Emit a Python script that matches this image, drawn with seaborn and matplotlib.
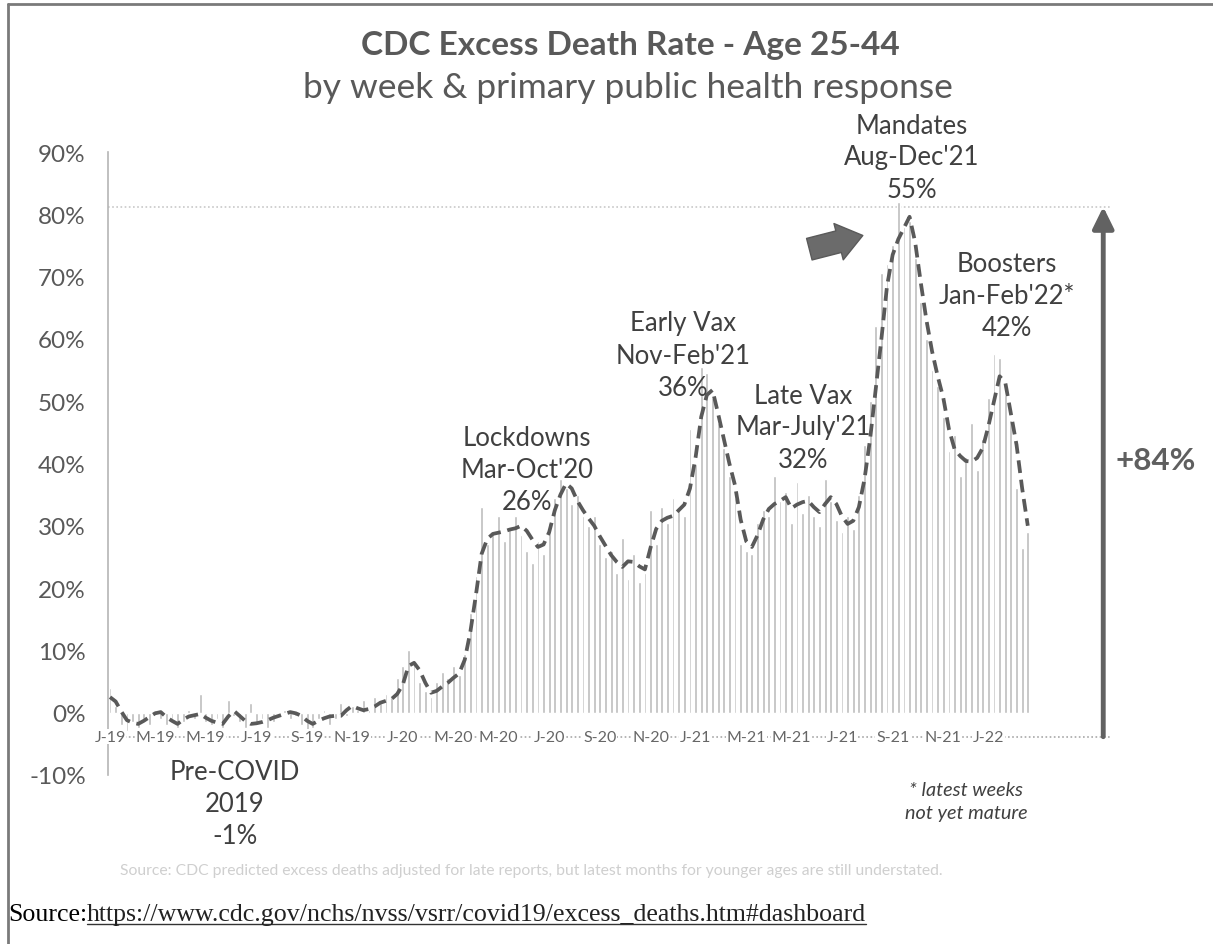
import numpy as np
import pandas as pd
import matplotlib
matplotlib.use("Agg")
import matplotlib.pyplot as plt
import seaborn as sns
from matplotlib.lines import Line2D

# weekly data, Jan 2019 - Feb 2022 (in %)
week_ending = pd.date_range("2019-01-05", periods=164, freq="7D")

excess_pct = [
    4.0, 1.0, -2.0, -3.0, -1.5, -2.5, -1.0, -2.0, 0.5, -1.0,
    -2.0, -1.0, -2.5, -1.5, 0.5, -1.0, 3.0, -1.5, -2.0, -1.0,
    -2.5, 2.0, -0.5, -1.5, -2.5, 1.5, -2.0, -1.0, -2.5, -1.5,
    -0.5, 0.5, -1.0, -0.5, -2.0, -3.0, -2.5, -1.0, 0.5, -2.0,
    -1.0, 1.5, -0.5, 1.0, 0.5, 2.0, 0.5, 2.5, 1.5, 3.0,
    2.5, 5.5, 7.5, 10.0, 8.5, 5.0, 3.5, 2.5, 5.0, 6.5,
    5.5, 7.5, 6.0, 9.5, 16.0, 22.0, 33.0, 27.0, 29.0, 31.5,
    27.5, 29.5, 31.5, 28.5, 26.0, 24.0, 27.5, 25.5, 30.5, 34.5,
    37.5, 36.0, 33.5, 35.0, 31.5, 30.0, 31.5, 27.0, 25.0, 26.0,
    22.5, 28.0, 21.5, 25.5, 21.0, 22.5, 32.5, 27.0, 33.0, 30.5,
    34.5, 33.0, 31.5, 45.5, 40.0, 55.5, 54.5, 50.5, 46.5, 42.5,
    38.0, 34.5, 27.0, 26.0, 25.5, 30.5, 32.5, 31.5, 38.0, 34.0,
    35.5, 30.5, 37.0, 32.0, 35.0, 31.5, 30.0, 37.5, 34.0, 31.0,
    29.0, 31.5, 29.5, 35.0, 43.0, 50.0, 62.0, 70.5, 72.0, 75.0,
    82.0, 78.0, 79.0, 73.0, 66.0, 60.0, 55.0, 52.5, 47.5, 42.0,
    44.5, 38.0, 41.0, 46.5, 39.0, 44.0, 50.5, 57.5, 57.0, 51.0,
    47.0, 36.0, 26.5, 29.0,
]

trend_pct = [
    2.5, 1.8, 0.2, -1.2, -1.6, -1.8, -1.3, -0.7, -0.1, 0.1,
    -0.7, -1.3, -1.8, -1.1, -0.6, -0.4, -0.2, -0.8, -1.3, -1.6,
    -1.8, -0.6, 0.3, -0.5, -1.3, -1.8, -1.7, -1.5, -1.2, -0.8,
    -0.5, -0.2, 0.1, -0.1, -0.5, -1.3, -1.8, -1.3, -0.9, -0.6,
    -0.5, -0.5, 0.4, 1.1, 0.7, 0.4, 0.6, 1.0, 1.6, 1.9,
    2.2, 3.0, 4.5, 7.5, 8.0, 6.8, 4.8, 3.2, 3.5, 4.2,
    4.8, 5.6, 6.3, 8.5, 13.0, 19.0, 25.5, 27.9, 28.7, 28.9,
    29.1, 29.4, 29.6, 30.0, 29.2, 27.8, 26.6, 27.0, 29.0, 32.5,
    35.0, 36.8, 36.0, 34.0, 32.5, 31.2, 30.0, 28.3, 26.8, 25.3,
    24.2, 23.4, 24.3, 24.2, 23.5, 23.0, 26.5, 29.5, 30.8, 31.3,
    31.6, 32.5, 33.4, 36.0, 41.0, 47.5, 51.0, 51.8, 48.0, 44.0,
    40.0, 36.5, 31.0, 27.5, 26.6, 28.5, 31.0, 32.7, 33.5, 34.0,
    34.6, 32.8, 33.4, 33.8, 34.0, 33.0, 32.2, 33.5, 34.6, 33.5,
    31.5, 30.3, 30.8, 33.0, 37.5, 44.0, 52.0, 60.0, 68.5, 73.5,
    76.0, 77.8, 79.6, 75.5, 69.0, 63.0, 58.0, 54.0, 50.5, 45.5,
    42.3, 41.2, 40.4, 40.3, 40.9, 42.5, 46.0, 50.0, 54.0, 53.0,
    48.0, 43.0, 36.0, 30.0,
]

tick_labels = ["J-19", "M-19", "M-19", "J-19", "S-19", "N-19",
               "J-20", "M-20", "M-20", "J-20", "S-20", "N-20",
               "J-21", "M-21", "M-21", "J-21", "S-21", "N-21", "J-22"]

y_ticks = [-10, 0, 10, 20, 30, 40, 50, 60, 70, 80, 90]

period_labels = [
    "Lockdowns\nMar-Oct'20\n26%",
    "Early Vax\nNov-Feb'21\n36%",
    "Late Vax\nMar-July'21\n32%",
    "Mandates\nAug-Dec'21\n55%",
    "Boosters\nJan-Feb'22*\n42%",
    "Pre-COVID\n2019\n-1%",
]

top_level = 81.2      # dotted reference line
base_level = -3.85    # dotted axis line
rise_label = "+84%"

W, H = 1213, 945


def fpos(x, y):
    # pixel position -> figure fraction
    return x / W, 1 - y / H


sns.set_theme(style="white")
plt.rcParams["font.family"] = ["Lato", "DejaVu Sans"]

fig = plt.figure(figsize=(W / 100, H / 100), dpi=100)
ax = fig.add_axes([108 / W, (H - 776) / H, (1110 - 108) / W, 623 / H])

df = pd.DataFrame({"week": np.arange(len(excess_pct)),
                   "excess": excess_pct, "trend": trend_pct})

sns.barplot(data=df, x="week", y="excess", color="#bdbdbd", saturation=1,
            width=0.5, ax=ax, zorder=2)
sns.lineplot(data=df, x="week", y="trend", color="#595959", lw=2.7,
             linestyle=(0, (3.4, 1.8)), ax=ax, zorder=4)

ax.set_xlim(-0.36, 177.6)
ax.set_ylim(-10, 90)
ax.set_xlabel("")
ax.set_ylabel("")
ax.set_xticks([])
ax.set_yticks(y_ticks)
ax.set_yticklabels([f"{v}%" for v in y_ticks], color="#595959", fontsize=17.5)
ax.tick_params(axis="y", length=0, pad=16)
for s in ["top", "right", "bottom"]:
    ax.spines[s].set_visible(False)
ax.spines["left"].set_color("#b5b5b5")
ax.spines["left"].set_linewidth(1.2)
ax.set_facecolor("none")

ax.axhline(top_level, color="#c8c8c8", ls=(0, (1, 1.5)), lw=1.2, zorder=1)
ax.axhline(base_level, color="#a8a8a8", ls=(0, (1, 1.5)), lw=1.2, zorder=3)

# month labels sitting on the dotted axis line
new_month = np.r_[True, week_ending.month[1:] != week_ending.month[:-1]]
tick_pos = np.where(new_month & (week_ending.month % 2 == 1))[0]
for pos, lab in zip(tick_pos, tick_labels):
    ax.text(pos, base_level, lab, ha="center", va="center", fontsize=11.5,
            color="#666666", zorder=5,
            bbox=dict(fc="white", ec="none", pad=0.5))

# block arrow pointing at the mandates peak
ax.annotate("", xy=(133.7, 76.6), xytext=(124.2, 74.4),
            arrowprops=dict(arrowstyle="simple,head_length=0.9,head_width=1.35,tail_width=0.8",
                            fc="#6b6b6b", ec="#5a5a5a", mutation_scale=20,
                            shrinkA=0, shrinkB=0), zorder=6)

# big vertical arrow for the overall rise
ax.annotate("", xy=(176.4, top_level), xytext=(176.4, base_level),
            arrowprops=dict(arrowstyle="-|>,head_length=0.65,head_width=0.32",
                            lw=3.5, color="#626262", mutation_scale=20,
                            shrinkA=0, shrinkB=0),
            annotation_clip=False, zorder=6)

# titles
fig.text(*fpos(630, 45), "CDC Excess Death Rate - Age 25-44", ha="center",
         va="center", fontsize=24, fontweight="bold", color="#595959")
fig.text(*fpos(628, 88), "by week & primary public health response",
         ha="center", va="center", fontsize=25.5, color="#595959")

# period annotations
label_xy = [(527, 471), (683, 356), (803, 428), (912, 158), (1007, 297), (235, 805)]
for txt, (x, y) in zip(period_labels, label_xy):
    fig.text(*fpos(x, y), txt, ha="center", va="center", fontsize=18.5,
             color="#404040", linespacing=1.35)

fig.text(*fpos(1156, 461), rise_label, ha="center", va="center",
         fontsize=22.5, fontweight="bold", color="#5f5f5f")

fig.text(*fpos(966, 802), "* latest weeks\nnot yet mature", ha="center",
         va="center", fontsize=14.3, style="italic", color="#404040",
         linespacing=1.4)

fig.text(*fpos(531, 871),
         "Source: CDC predicted excess deaths adjusted for late reports, "
         "but latest months for younger ages are still understated.",
         ha="center", va="center", fontsize=11.3, color="#cfcfcf")

# source line, URL underlined
src = fig.text(*fpos(8, 915), "Source:", ha="left", va="center",
               fontsize=18.6, family="Liberation Serif", color="black")
renderer = fig.canvas.get_renderer()
bb = src.get_window_extent(renderer)
url = fig.text(bb.x1 / W, 1 - 915 / H,
               "https://www.cdc.gov/nchs/nvss/vsrr/covid19/excess_deaths.htm#dashboard",
               ha="left", va="center", fontsize=18.6, family="Liberation Serif",
               color="#222222")
ub = url.get_window_extent(renderer)
fig.add_artist(Line2D([ub.x0 / W, ub.x1 / W], [(ub.y0 + 1) / H] * 2,
                      transform=fig.transFigure, color="#333333", lw=1))

# outer frame (left and top edges)
fig.add_artist(Line2D([8 / W, 8 / W], [0, 1 - 5 / H], transform=fig.transFigure,
                      color="#7a7a7a", lw=2))
fig.add_artist(Line2D([8 / W, 1], [1 - 5 / H, 1 - 5 / H], transform=fig.transFigure,
                      color="#7a7a7a", lw=2))

fig.savefig("out.png", dpi=100)
